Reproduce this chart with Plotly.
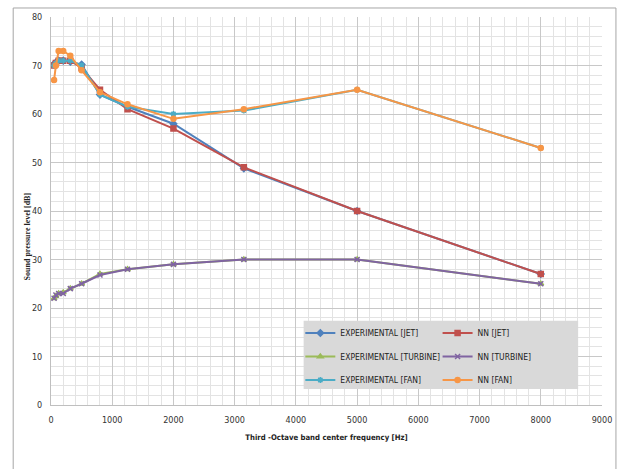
import plotly.graph_objects as go

# Third-octave band centre frequencies (every second band)
freq_hz = [50, 80, 125, 200, 315, 500, 800, 1250, 2000, 3150, 5000, 8000]

exp_jet = [70.3, 70.6, 71.0, 71.0, 70.8, 70.2, 64.0, 61.5, 58.0, 48.8, 40.0, 27.0]
nn_jet = [70.0, 70.5, 71.0, 71.0, 71.0, 69.5, 65.0, 61.0, 57.0, 49.0, 40.0, 27.0]
exp_turbine = [22.0, 22.5, 23.0, 23.2, 24.0, 25.0, 27.0, 28.0, 29.0, 30.0, 30.0, 25.0]
nn_turbine = [22.0, 22.7, 23.0, 23.0, 24.0, 25.0, 26.8, 28.0, 29.0, 30.0, 30.0, 25.0]
exp_fan = [70.0, 70.5, 71.0, 71.0, 71.0, 70.0, 64.0, 61.5, 60.0, 60.7, 65.0, 53.0]
nn_fan = [67.0, 70.0, 73.0, 73.0, 72.0, 69.0, 64.5, 62.0, 59.0, 61.0, 65.0, 53.0]

series = [
    ("EXPERIMENTAL [JET]", exp_jet, "#4F81BD", "diamond", "legend"),
    ("NN [JET]", nn_jet, "#C0504D", "square", "legend2"),
    ("EXPERIMENTAL [TURBINE]", exp_turbine, "#9BBB59", "triangle-up", "legend"),
    ("NN [TURBINE]", nn_turbine, "#8064A2", "x-thin", "legend2"),
    ("EXPERIMENTAL [FAN]", exp_fan, "#4BACC6", "asterisk", "legend"),
    ("NN [FAN]", nn_fan, "#F79646", "circle", "legend2"),
]

fig = go.Figure()
for name, vals, color, symbol, leg in series:
    fig.add_trace(go.Scatter(
        x=freq_hz, y=vals, name=name, mode="lines+markers",
        line=dict(color=color, width=2),
        marker=dict(color=color, symbol=symbol, size=5,
                    line=dict(color=color, width=1.5)),
        legend=leg, legendgroup=name,
    ))

narrow = "Liberation Sans Narrow, DejaVu Sans Condensed, Arial Narrow, sans-serif"
tick_font = dict(family=narrow, size=9, color="#333333")
legend_font = dict(family=narrow, size=8.5, color="#222222")

fig.update_layout(
    width=624, height=469,
    margin=dict(l=51, r=19, t=17, b=64),
    paper_bgcolor="white", plot_bgcolor="white",
    showlegend=True,
    xaxis=dict(
        range=[0, 9000], dtick=1000, tick0=0,
        showgrid=True, gridcolor="#c8c8c8", gridwidth=1,
        minor=dict(dtick=200, showgrid=True, gridcolor="#e3e3e3", gridwidth=1),
        showline=True, linecolor="#bfbfbf", zeroline=False,
        tickfont=tick_font, ticklabelstandoff=6,
        title=dict(text="<b>Third -Octave band center frequency [Hz]</b>",
                   font=dict(family=narrow, size=7.7, color="#222222"),
                   standoff=10),
    ),
    yaxis=dict(
        range=[0, 80], dtick=10, tick0=0,
        showgrid=True, gridcolor="#c8c8c8", gridwidth=1,
        minor=dict(dtick=2, showgrid=True, gridcolor="#e3e3e3", gridwidth=1),
        showline=True, linecolor="#bfbfbf", zeroline=False,
        tickfont=tick_font, ticklabelstandoff=6,
    ),
    legend=dict(x=0.4525, y=0.223, xanchor="left", yanchor="top",
                bgcolor="rgba(0,0,0,0)", font=legend_font,
                tracegroupgap=4.5, itemwidth=30),
    legend2=dict(x=0.7016, y=0.223, xanchor="left", yanchor="top",
                 bgcolor="rgba(0,0,0,0)", font=legend_font,
                 tracegroupgap=4.5, itemwidth=30),
    shapes=[
        # grey legend panel
        dict(type="rect", xref="paper", yref="paper",
             x0=0.4585, x1=0.9567, y0=0.0412, y1=0.2173,
             fillcolor="#d9d9d9", line=dict(width=0), layer="above"),
        # outer chart frame
        dict(type="rect", xref="paper", yref="paper",
             x0=-0.0686, x1=1.0253, y0=-0.19, y1=1.0232,
             fillcolor="rgba(0,0,0,0)", line=dict(color="#a6a6a6", width=1),
             layer="below"),
    ],
    annotations=[
        dict(text="<b>Sound pressure level [dB]</b>", xref="paper", yref="paper",
             x=-0.041, y=0.4356, xanchor="center", yanchor="middle",
             textangle=-90, showarrow=False,
             font=dict(family="Liberation Serif, DejaVu Serif, serif", size=8, color="#222222")),
    ],
)

fig.write_html("out.html")
